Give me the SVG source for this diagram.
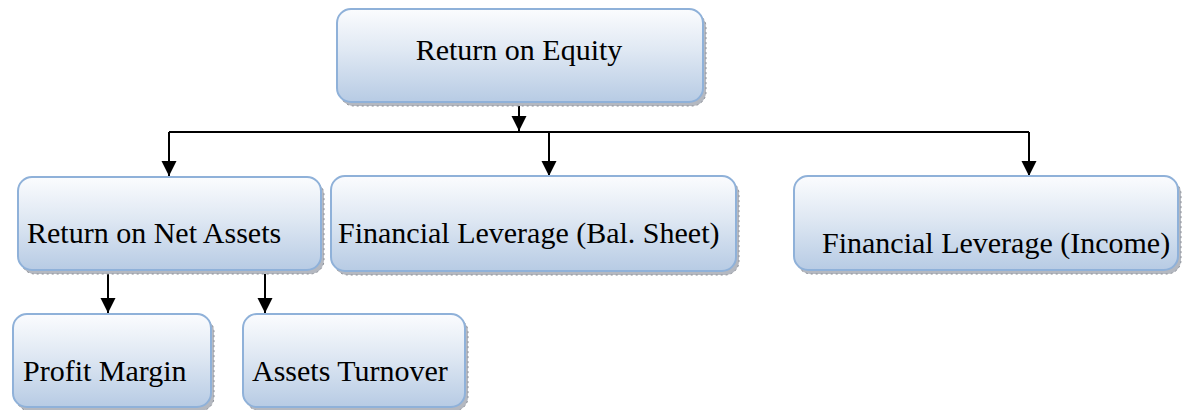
<svg xmlns="http://www.w3.org/2000/svg" width="1187" height="410" viewBox="0 0 1187 410">
  <style>
    .box { fill: url(#boxFill); stroke: #8fb1d9; stroke-width: 2; }
    .shadow { fill: #b4b8c0; stroke: #8a8e96; stroke-width: 1; stroke-dasharray: 2 3; }
    .label { font-family: 'Liberation Serif', 'Times New Roman', Times, serif; font-size: 30px; fill: #000; }
    .conn { fill: none; stroke: #000; stroke-width: 2; }
  </style>
  <defs>
    <linearGradient id="boxFill" x1="0" y1="0" x2="0" y2="1">
      <stop offset="0" stop-color="#fbfcfe"/>
      <stop offset="0.45" stop-color="#dfe8f3"/>
      <stop offset="1" stop-color="#b7cbe4"/>
    </linearGradient>
    <marker id="arrow" markerUnits="userSpaceOnUse" markerWidth="16" markerHeight="16" viewBox="0 0 16 16" refX="15" refY="8" orient="auto">
      <path d="M0,0.5 L15,8 L0,15.5 Z" fill="#000"/>
    </marker>
  </defs>

  <!-- connectors -->
  <g id="connectors">
    <path class="conn" d="M519,103 V131" marker-end="url(#arrow)"/>
    <path class="conn" d="M169,132 H1029"/>
    <path class="conn" d="M169,132 V176" marker-end="url(#arrow)"/>
    <path class="conn" d="M549,132 V176" marker-end="url(#arrow)"/>
    <path class="conn" d="M1029,132 V176" marker-end="url(#arrow)"/>
    <path class="conn" d="M108,272 V313" marker-end="url(#arrow)"/>
    <path class="conn" d="M265,272 V313" marker-end="url(#arrow)"/>
  </g>

  <!-- nodes -->
  <g id="return-on-equity">
    <rect class="shadow" x="340" y="13" width="366" height="93" rx="14"/>
    <rect class="box" x="337" y="9" width="366" height="93" rx="14"/>
    <text class="label" font-family="Liberation Serif, serif" x="519" y="60" text-anchor="middle">Return on Equity</text>
  </g>

  <g id="return-on-net-assets">
    <rect class="shadow" x="21" y="181" width="303" height="93" rx="14"/>
    <rect class="box" x="18" y="177" width="303" height="93" rx="14"/>
    <text class="label" x="27" y="243">Return on Net Assets</text>
  </g>

  <g id="financial-leverage-bs">
    <rect class="shadow" x="334" y="180" width="405" height="95" rx="14"/>
    <rect class="box" x="331" y="176" width="405" height="95" rx="14"/>
    <text class="label" x="338" y="243">Financial Leverage (Bal. Sheet)</text>
  </g>

  <g id="financial-leverage-income">
    <rect class="shadow" x="797" y="180" width="384" height="94" rx="14"/>
    <rect class="box" x="794" y="176" width="384" height="94" rx="14"/>
    <text class="label" x="822" y="253">Financial Leverage (Income)</text>
  </g>

  <g id="profit-margin">
    <rect class="shadow" x="16" y="318" width="198" height="93" rx="14"/>
    <rect class="box" x="13" y="314" width="198" height="93" rx="14"/>
    <text class="label" x="23" y="381">Profit Margin</text>
  </g>

  <g id="assets-turnover">
    <rect class="shadow" x="246" y="318" width="222" height="93" rx="14"/>
    <rect class="box" x="243" y="314" width="222" height="93" rx="14"/>
    <text class="label" x="252" y="381">Assets Turnover</text>
  </g>
</svg>
